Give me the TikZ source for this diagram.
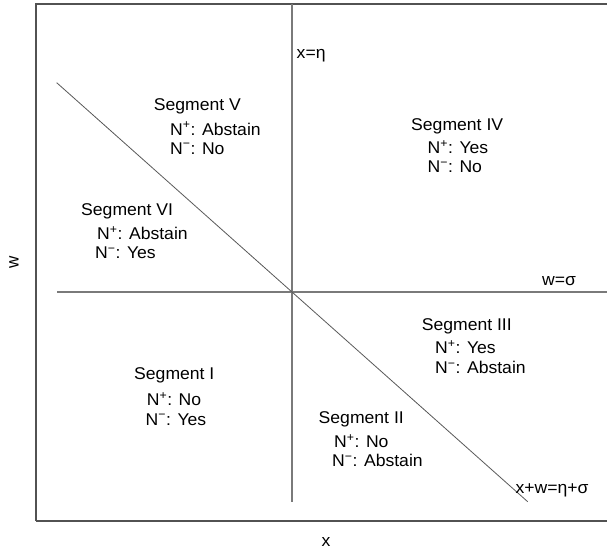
\documentclass[tikz,border=0pt]{standalone}
\usepackage{fontspec}
\setmainfont{Liberation Sans}
\begin{document}
\begin{tikzpicture}[x=1pt,y=-1pt,
  lab/.style={font=\fontsize{17}{19}\selectfont, xscale=1.035, inner sep=0pt, anchor=base west, text=black},
  framebox/.style={draw=black!68, line width=1.6pt},
  axisline/.style={draw=black!52, line width=1.6pt},
  diagline/.style={draw=black!65, line width=0.8pt}]
\useasboundingbox (0,0) rectangle (607,554);
\fill[white] (0,0) rectangle (607,554);
% frame
\draw[framebox] (35.7,520.7) -- (35.7,4) -- (615,4);
\draw[framebox] (35.7,520.7) -- (615,520.7);
% coordinates of the lines
\coordinate (vtop) at (292,4);
\coordinate (vbot) at (292,501.7);
\coordinate (hleft) at (57.3,292);
\coordinate (hright) at (615,292);
\coordinate (dstart) at (56.7,82.7);
\coordinate (dend) at (527.7,501.7);
\draw[axisline] (vtop) -- (vbot);
\draw[axisline] (hleft) -- (hright);
\draw[diagline] (dstart) -- (dend);
% line labels
\node[lab] (leta) at (296.5,58.5) {x=η};
\node[lab] (lsig) at (542,285) {w=σ};
\node[lab] (lsum) at (515.4,493.3) {x+w=η+σ};
% axis labels
\node[lab, anchor=base] (xlab) at (326,546) {x};
\node[lab, anchor=center, rotate=90, xscale=1] (wlab) at (14,262) {w};
% Segment V
\node[lab] (s5) at (153.7,110) {Segment V};
\node[lab] (s5a) at (170,135) {N\textsuperscript{+}: Abstain};
\node[lab] (s5b) at (170,154) {N\textsuperscript{−}: No};
% Segment IV
\node[lab] (s4) at (411,130.7) {Segment IV};
\node[lab] (s4a) at (427.5,153.3) {N\textsuperscript{+}: Yes};
\node[lab] (s4b) at (427.5,172.7) {N\textsuperscript{−}: No};
% Segment VI
\node[lab] (s6) at (81,215) {Segment VI};
\node[lab] (s6a) at (97,239.3) {N\textsuperscript{+}: Abstain};
\node[lab] (s6b) at (95,258.7) {N\textsuperscript{−}: Yes};
% Segment III
\node[lab] (s3) at (421.6,330) {Segment III};
\node[lab] (s3a) at (435,353.3) {N\textsuperscript{+}: Yes};
\node[lab] (s3b) at (435,373.3) {N\textsuperscript{−}: Abstain};
% Segment I
\node[lab] (s1) at (134,379.5) {Segment I};
\node[lab] (s1a) at (146.7,405.5) {N\textsuperscript{+}: No};
\node[lab] (s1b) at (145.5,425) {N\textsuperscript{−}: Yes};
% Segment II
\node[lab] (s2) at (318.5,423.3) {Segment II};
\node[lab] (s2a) at (334,447.7) {N\textsuperscript{+}: No};
\node[lab] (s2b) at (332,466.7) {N\textsuperscript{−}: Abstain};
\end{tikzpicture}
\end{document}
